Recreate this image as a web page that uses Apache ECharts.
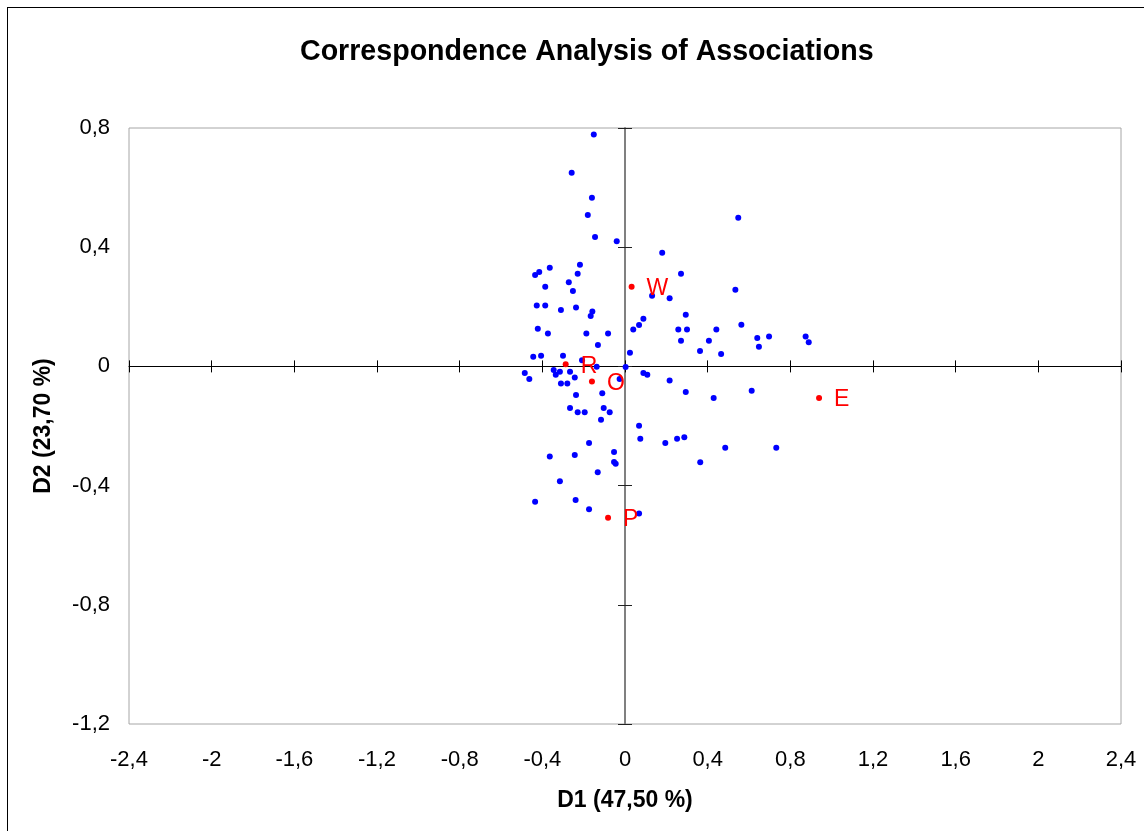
<!DOCTYPE html>
<html>
<head>
<meta charset="utf-8">
<script src="https://cdn.jsdelivr.net/npm/echarts@6/dist/echarts.min.js"></script>
<style>
  html, body { margin: 0; padding: 0; background: #fff; overflow: hidden; }
  #frame { position: absolute; left: 7px; top: 7px; width: 1200px; height: 900px; border: 1px solid #000; }
  #container { position: absolute; left: 0; top: 0; width: 1144px; height: 831px; }
</style>
</head>
<body>
<div id="frame"></div>
<div id="container"></div>
<script>
// association points (blue), D1 / D2 coordinates
var assocD1 = [-0.151, -0.258, -0.160, -0.180, -0.145, -0.040, -0.218, -0.364, -0.415, -0.435,
  -0.229, -0.272, -0.252, -0.386, -0.427, -0.386, -0.310, -0.237, -0.158, -0.166,
  0.089, 0.068, 0.040, -0.422, -0.373, -0.187, -0.082, -0.131, 0.024, -0.444,
  -0.406, -0.300, -0.208, -0.137, 0.003, -0.485, -0.463, -0.345, -0.315, -0.335,
  -0.266, -0.243, -0.310, -0.279, -0.026, 0.089, 0.108, -0.237, -0.110, -0.266,
  -0.229, -0.195, -0.103, -0.074, -0.116, 0.068, 0.074, -0.174, -0.053, -0.364,
  -0.243, -0.053, -0.045, -0.132, -0.315, -0.435, -0.239, -0.174, 0.068, 0.548,
  0.180, 0.271, 0.131, 0.216, 0.534, 0.294, 0.258, 0.300, 0.442, 0.563,
  0.271, 0.406, 0.640, 0.697, 0.648, 0.874, 0.889, 0.363, 0.465, 0.216,
  0.294, 0.429, 0.613, 0.195, 0.252, 0.287, 0.485, 0.732, 0.364];
var assocD2 = [0.778, 0.650, 0.566, 0.508, 0.434, 0.420, 0.341, 0.331, 0.317, 0.307,
  0.311, 0.282, 0.253, 0.267, 0.204, 0.204, 0.189, 0.198, 0.184, 0.169,
  0.160, 0.139, 0.124, 0.126, 0.110, 0.110, 0.110, 0.072, 0.046, 0.032,
  0.036, 0.036, 0.021, -0.001, -0.002, -0.022, -0.042, -0.012, -0.018, -0.028,
  -0.018, -0.037, -0.057, -0.057, -0.042, -0.022, -0.028, -0.096, -0.090, -0.140,
  -0.154, -0.154, -0.140, -0.154, -0.179, -0.199, -0.243, -0.257, -0.287, -0.302,
  -0.297, -0.321, -0.327, -0.355, -0.385, -0.454, -0.448, -0.479, -0.494, 0.499,
  0.381, 0.311, 0.237, 0.229, 0.257, 0.173, 0.124, 0.124, 0.124, 0.140,
  0.086, 0.086, 0.095, 0.100, 0.066, 0.100, 0.081, 0.052, 0.042, -0.047,
  -0.086, -0.106, -0.082, -0.257, -0.243, -0.238, -0.273, -0.273, -0.322];

// class points (red)
var classNames = ['W', 'R', 'O', 'P', 'E'];
var classD1 = [0.032, -0.287, -0.160, -0.082, 0.939];
var classD2 = [0.267, 0.007, -0.051, -0.508, -0.106];

var xMin = -2.4, xMax = 2.4, xStep = 0.4;
var yMin = -1.2, yMax = 0.8, yStep = 0.4;

var dom = document.querySelector("#container");
var myChart = echarts.init(dom);

var fmt = function (v) {
    return String(Math.round(v * 10) / 10).replace('.', ',');
};

var assocData = assocD1.map(function (x, i) { return [x, assocD2[i]]; });
var classData = classNames.map(function (n, i) {
    return { name: n, value: [classD1[i], classD2[i]] };
});

var baseX = { type: 'value', min: xMin, max: xMax, interval: xStep, splitLine: { show: false } };
var baseY = { type: 'value', min: yMin, max: yMax, interval: yStep, splitLine: { show: false } };

var option = {
    animation: false,
    textStyle: { fontFamily: 'Liberation Sans' },
    title: {
        text: 'Correspondence Analysis of Associations',
        left: 295,
        top: 33,
        textStyle: { fontSize: 28.6, fontWeight: 'bold', color: '#000', fontFamily: 'Liberation Sans' }
    },
    grid: {
        left: 129, right: 23, top: 128, bottom: 107,
        show: true, borderColor: '#a6a6a6', borderWidth: 1,
        containLabel: false, outerBoundsMode: 'none'
    },
    xAxis: [
        Object.assign({}, baseX, {
            position: 'bottom',
            axisLine: { show: false, onZero: false },
            axisTick: { show: false },
            axisLabel: { formatter: fmt, fontSize: 22, color: '#000', margin: 25 },
            name: 'D1 (47,50 %)',
            nameLocation: 'middle',
            nameGap: 65,
            nameTextStyle: { fontSize: 23, fontWeight: 'bold', color: '#000' }
        }),
        Object.assign({}, baseX, {
            position: 'bottom',
            axisLine: { show: true, onZero: true, lineStyle: { color: '#000', width: 1 } },
            axisTick: { show: true, inside: false, length: 6, lineStyle: { color: '#000' } },
            axisLabel: { show: false }
        }),
        Object.assign({}, baseX, {
            position: 'bottom',
            axisLine: { show: false, onZero: true },
            axisTick: { show: true, inside: true, length: 6, lineStyle: { color: '#000' } },
            axisLabel: { show: false }
        })
    ],
    yAxis: [
        Object.assign({}, baseY, {
            position: 'left',
            axisLine: { show: false, onZero: false },
            axisTick: { show: false },
            axisLabel: { formatter: fmt, fontSize: 22, color: '#000', margin: 19 },
            name: 'D2 (23,70 %)',
            nameLocation: 'middle',
            nameGap: 74,
            nameTextStyle: { fontSize: 23, fontWeight: 'bold', color: '#000' }
        }),
        Object.assign({}, baseY, {
            position: 'left',
            axisLine: { show: true, onZero: true, lineStyle: { color: '#808080', width: 2 } },
            axisTick: { show: true, inside: false, length: 7, lineStyle: { color: '#222' } },
            axisLabel: { show: false }
        }),
        Object.assign({}, baseY, {
            position: 'left',
            axisLine: { show: false, onZero: true },
            axisTick: { show: true, inside: true, length: 7, lineStyle: { color: '#222' } },
            axisLabel: { show: false }
        })
    ],
    series: [
        {
            name: 'Associations',
            type: 'scatter',
            xAxisIndex: 0, yAxisIndex: 0,
            symbolSize: 6,
            itemStyle: { color: '#0000ff', opacity: 1 },
            data: assocData
        },
        {
            name: 'Classes',
            type: 'scatter',
            xAxisIndex: 0, yAxisIndex: 0,
            symbolSize: 6,
            itemStyle: { color: '#ff0000', opacity: 1 },
            label: {
                show: true,
                position: 'right',
                distance: 12,
                offset: [0, 2],
                formatter: '{b}',
                fontSize: 23,
                color: '#ff0000'
            },
            data: classData
        }
    ]
};

myChart.setOption(option);
</script>
</body>
</html>
